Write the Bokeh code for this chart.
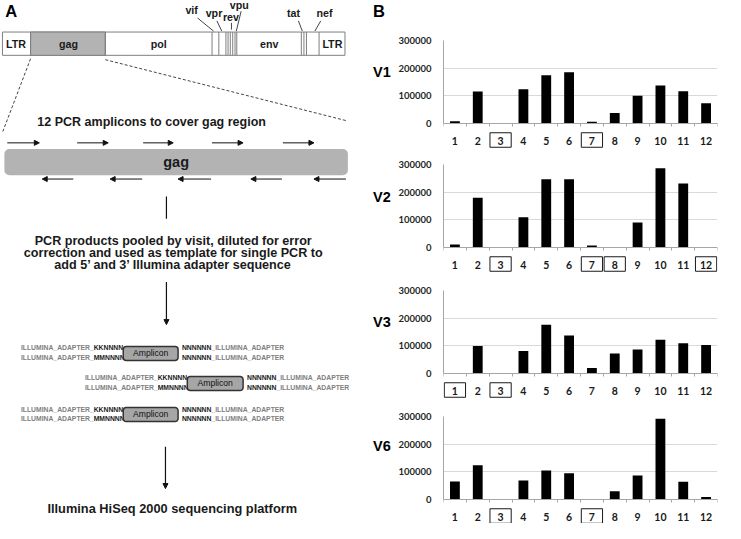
from bokeh.plotting import figure
from bokeh.layouts import row, column
from bokeh.models import Range1d, FixedTicker, Arrow, NormalHead, BasicTickFormatter
from bokeh.core.properties import value
from bokeh.embed import file_html
from bokeh.resources import INLINE

# ---------------- data ----------------
amplicons = list(range(1, 13))
v1 = [8000, 116000, 2000, 124000, 174000, 185000, 6000, 38000, 100000, 137000, 117000, 73000]
v2 = [11000, 180000, 2000, 109000, 247000, 247000, 7000, 2000, 90000, 286000, 231000, 2000]
v3 = [2000, 99000, 2000, 81000, 176000, 137000, 20000, 72000, 87000, 122000, 109000, 103000]
v6 = [65000, 124000, 2000, 69000, 105000, 95000, 2000, 30000, 87000, 292000, 64000, 9000]
visits = ["V1", "V2", "V3", "V6"]
visit_values = [v1, v2, v3, v6]
boxed_v1 = [3, 7]
boxed_v2 = [3, 7, 8, 12]
boxed_v3 = [1, 3]
boxed_v6 = [3, 7]
boxed_all = [boxed_v1, boxed_v2, boxed_v3, boxed_v6]
y_ticks = [0, 100000, 200000, 300000]
y_max = 300000
genes_in_bar = ["LTR", "gag", "pol", "env", "LTR"]
small_genes = ["vif", "vpr", "rev", "vpu", "tat", "nef"]
para_lines = ["PCR products pooled by visit, diluted for error",
              "correction and used as template for single PCR to",
              "add 5\u2019 and 3\u2019 Illumina adapter sequence"]

S = 0.97
ARIAL = value("Liberation Sans")
NUMF = "Lato"


def fs(px):
    return f"{px * S:.1f}px"


# ---------------- panel A (diagram) ----------------
pa = figure(width=393, height=523, x_range=Range1d(0, 405), y_range=Range1d(539, 0),
            x_axis_type=None, y_axis_type=None, toolbar_location=None,
            output_backend="svg", min_border=0, outline_line_color=None)
pa.grid.visible = False


def txt(x, y, t, size, align="center", color="#1a1a1a", style="bold"):
    pa.text(x=[x], y=[y], text=[t], text_font=ARIAL, text_font_size=fs(size),
            text_font_style=style, text_align=align, text_baseline="middle",
            text_color=color)


def arrow(x0, y0, x1, y1, size=5, w=1.2):
    pa.add_layout(Arrow(end=NormalHead(size=size, fill_color="#111111", line_color="#111111"),
                        x_start=x0, y_start=y0, x_end=x1, y_end=y1,
                        line_color="#111111", line_width=w))


txt(5, 11, "A", 17, align="left", color="black")
txt(384, 11, "B", 17, align="left", color="black")
for lab, yy in zip(visits, [74, 202, 331, 459]):
    txt(384, yy, lab, 15, align="left", color="black")

# genome bar
pa.quad(left=2, right=355, top=32.5, bottom=56.5, fill_color="white", line_color="#7f7f7f", line_width=1)
pa.quad(left=31, right=108, top=32.5, bottom=56.5, fill_color="#b3b3b3", line_color="#7f7f7f", line_width=1)
sep_x = [31, 108, 218, 225, 232.3, 234.5, 236.8, 239.3, 241.7, 243.5, 310, 312.7, 315.3, 328.3]
pa.segment(x0=sep_x, y0=[32.5] * len(sep_x), x1=sep_x, y1=[56.5] * len(sep_x),
           line_color="#7f7f7f", line_width=1)
for lab, xx in zip(genes_in_bar, [16, 70, 163, 277, 342]):
    txt(xx, 44.5, lab, 11)
for lab, (xx, yy) in zip(small_genes, [(197, 10), (220, 13), (237.5, 16.5), (246, 4.5), (302, 13), (334, 13)]):
    txt(xx, yy, lab, 11)
pa.segment(x0=[203, 223, 238, 248, 307, 330], y0=[18, 21, 23, 11, 21, 21],
           x1=[219.5, 228, 238, 243, 311, 324], y1=[31.5, 31.5, 30, 31.5, 31.5, 31.5],
           line_color="#444444", line_width=1)

# zoom dashed lines
pa.segment(x0=[31, 108], y0=[60, 61], x1=[2, 357], y1=[136, 124],
           line_color="#444444", line_width=1, line_dash="3 2")

txt(38, 125, "12 PCR amplicons to cover gag region", 12.9, align="left")

pa.quad(left=4, right=358, top=153, bottom=180, fill_color="#b3b3b3", line_color=None,
        border_radius=5)
txt(181, 166.5, "gag", 15)

for a, b in [(7, 40), (79, 111), (147, 178), (218, 250), (291, 323)]:
    arrow(a, 146.7, b, 146.7, size=5, w=1)
for a, b in [(43, 75), (113, 146), (183, 217), (258, 290), (323, 356)]:
    arrow(b, 184, a, 184, size=5, w=1)

pa.segment(x0=[171], y0=[202], x1=[171], y1=[225], line_color="#111111", line_width=1.2)
for line, yy in zip(para_lines, [248, 260.5, 273]):
    txt(178, yy, line, 13)
arrow(171, 290, 171, 334, size=5)

# adapter rows
AD = 7.0
for (ya, yb, x0, bl, br, rst) in [(358, 368, 21, 126.5, 183, 187),
                                   (389, 399, 87, 192.5, 250, 254),
                                   (421, 431, 21, 126.5, 183, 187)]:
    txt(x0, ya, "ILLUMINA_ADAPTER_", AD, align="left", color="#808080")
    txt(x0 + 75, ya, "KKNNNN", AD, align="left", color="#1a1a1a")
    txt(x0, yb, "ILLUMINA_ADAPTER_", AD, align="left", color="#808080")
    txt(x0 + 75, yb, "MMNNNN", AD, align="left", color="#1a1a1a")
    txt(rst, ya, "NNNNNN", AD, align="left", color="#1a1a1a")
    txt(rst + 30.3, ya, "_ILLUMINA_ADAPTER", AD, align="left", color="#808080")
    txt(rst, yb, "NNNNNN", AD, align="left", color="#1a1a1a")
    txt(rst + 30.3, yb, "_ILLUMINA_ADAPTER", AD, align="left", color="#808080")
    pa.quad(left=bl, right=br, top=ya - 1.5, bottom=yb + 3, fill_color="#a6a6a6",
            line_color="#333333", line_width=1.5, border_radius=3)
    txt((bl + br) / 2, (ya + yb) / 2 + 0.5, "Amplicon", 8.9, style="normal", color="#111111")

arrow(170, 460, 170, 503, size=5)
txt(177, 524, "Illumina HiSeq 2000 sequencing platform", 13.2)

# ---------------- panel B (bar charts) ----------------
tops = [40, 14, 15, 16]
heights = [150, 125, 125, 123]
FRAME_H = 83  # pixels between 0 and 300000
px_to_data = y_max / FRAME_H
figs = []
for vals, boxed, top, h in zip(visit_values, boxed_all, tops, heights):
    below = h - top - FRAME_H
    p = figure(width=326, height=h, x_range=Range1d(0.5, 12.5),
               y_range=Range1d(-below * px_to_data, y_max),
               toolbar_location=None, output_backend="svg",
               min_border_left=50, min_border_right=2, min_border_top=top,
               min_border_bottom=0, outline_line_color=None)
    p.vbar(x=amplicons, top=vals, width=0.43, fill_color="black", line_color=None)

    p.xgrid.visible = False
    p.ygrid.grid_line_color = "#d9d9d9"
    p.ygrid.grid_line_width = 1

    ya = p.yaxis[0]
    ya.ticker = FixedTicker(ticks=y_ticks)
    ya.formatter = BasicTickFormatter(use_scientific=False)
    ya.bounds = (0, y_max)
    ya.axis_line_color = "#a6a6a6"
    ya.major_tick_out = 0
    ya.major_tick_in = 0
    ya.minor_tick_line_color = None
    ya.major_label_standoff = 12
    ya.major_label_text_font = NUMF
    ya.major_label_text_font_style = "bold"
    ya.major_label_text_font_size = "9.5px"
    ya.major_label_text_color = "#262626"

    xa = p.xaxis[0]
    xa.fixed_location = 0
    xa.ticker = FixedTicker(ticks=amplicons, minor_ticks=[i + 0.5 for i in range(13)])
    xa.axis_line_color = "#a6a6a6"
    xa.major_tick_out = 0
    xa.major_tick_in = 0
    xa.minor_tick_out = 3
    xa.minor_tick_in = 0
    xa.minor_tick_line_color = "#a6a6a6"
    xa.major_label_standoff = 10
    xa.major_label_text_font = NUMF
    xa.major_label_text_font_style = "bold"
    xa.major_label_text_font_size = "10.5px"
    xa.major_label_text_color = "#1a1a1a"

    p.rect(x=boxed, y=[-16.5 * px_to_data] * len(boxed), width=0.93, height=14.5,
           height_units="screen", fill_color=None, line_color="#1a1a1a", line_width=1)
    figs.append(p)

layout = row(pa, column(*figs))
open("out.html", "w").write(file_html(layout, INLINE))
